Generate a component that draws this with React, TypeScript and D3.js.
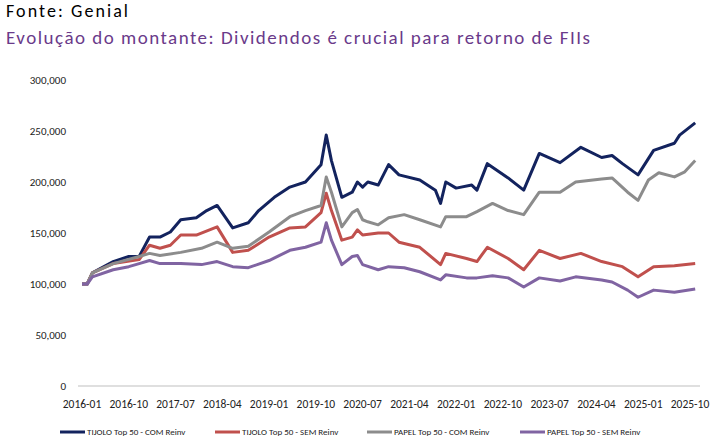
import React from "react";
import * as d3 from "d3";

const tijoloComM = [0,1,2,6,9,11,13,15,17,19,22,24,26,29,32,34,37,40,43,46,47,48,50,52,53,54,55,57,59,61,65,68,69,70,72,75,76,78,82,85,88,92,96,100,102,104,107,110,114,115,118];
const tijoloComV = [100,100,111,122,127,127,146,146,151,163,165,172,177,155,160,172,185,195,200,217,246,221,185,190,200,195,200,197,217,207,202,192,179,200,194,197,192,218,204,192,228,219,234,224,226,218,207,231,238,246,258];
const tijoloSemM = [0,1,2,6,11,13,15,17,19,22,26,29,32,36,40,43,46,47,48,50,52,53,54,57,59,61,65,69,70,74,76,78,82,85,88,92,96,100,104,107,110,114,118];
const tijoloSemV = [100,100,111,120,124,138,135,138,148,148,156,131,133,146,155,156,170,189,172,143,146,153,148,150,150,141,136,119,130,125,122,136,125,114,133,125,130,122,117,107,117,118,120];
const papelComM = [0,1,2,6,11,13,15,19,23,26,29,32,36,40,43,46,47,48,50,52,53,54,55,57,59,62,65,69,70,74,76,79,82,85,88,92,95,100,102,105,107,109,111,114,116,118];
const papelComV = [100,100,111,120,127,130,128,131,135,141,135,137,151,166,172,177,205,190,156,170,173,163,161,158,165,168,163,156,166,166,171,179,172,168,190,190,200,203,204,190,182,202,209,205,210,221];
const papelSemM = [0,1,2,6,9,11,13,15,19,23,26,29,32,36,40,43,46,47,48,50,52,53,54,57,59,62,65,69,70,74,76,79,82,85,88,92,95,100,102,105,107,110,114,118];
const papelSemV = [100,100,107,114,117,120,123,120,120,119,122,117,116,123,133,136,141,160,143,119,127,128,119,114,117,116,112,104,109,106,106,108,106,97,106,103,107,104,102,94,87,94,92,95];

const xTickLabels = ["2016-01","2016-10","2017-07","2018-04","2019-01","2019-10","2020-07","2021-04","2022-01","2022-10","2023-07","2024-04","2025-01","2025-10"];
const yTicks = [0,50000,100000,150000,200000,250000,300000];

const series = [
  { name: "TIJOLO Top 50  - COM Reinv", m: tijoloComM, v: tijoloComV, color: "#13235e" },
  { name: "TIJOLO Top 50  - SEM Reinv", m: tijoloSemM, v: tijoloSemV, color: "#c0504d" },
  { name: "PAPEL Top 50  - COM Reinv", m: papelComM, v: papelComV, color: "#8c8c8c" },
  { name: "PAPEL Top 50  - SEM Reinv", m: papelSemM, v: papelSemV, color: "#8064a2" },
];

export default function App() {
  const W = 719, H = 439;
  const x = d3.scaleLinear().domain([0, 117]).range([82, 690]);
  const y = d3.scaleLinear().domain([0, 300000]).range([386, 80]);
  const line = d3.line<[number, number]>().x(d => x(d[0])).y(d => y(d[1] * 1000));
  const font = "Calibri, Carlito, 'Open Sans', Arial, sans-serif";
  const legendX = [60, 215, 367, 520];
  return (
    <svg width={W} height={H} style={{ position: "absolute", left: 0, top: 0, background: "#fff" }} fontFamily={font}>
      <text x={6} y={17} fontSize={18} fill="#000" textLength={122}>Fonte: Genial</text>
      <text x={6} y={44} fontSize={19} fill="#6a3a8a" textLength={584}>Evolução do montante: Dividendos é crucial para retorno de FIIs</text>
      {yTicks.map(t => (
        <text key={t} x={66} y={y(t) + 4} fontSize={11} textAnchor="end" fill="#222">{d3.format(",")(t)}</text>
      ))}
      <line x1={78} x2={700} y1={386} y2={386} stroke="#bfbfbf" />
      {xTickLabels.map((l, i) => (
        <text key={l} x={x(i * 9)} y={408} fontSize={11.5} textAnchor="middle" fill="#222">{l}</text>
      ))}
      {series.map(s => (
        <path key={s.name} d={line(s.m.map((m, i) => [m, s.v[i]] as [number, number])) || ""} fill="none" stroke={s.color} strokeWidth={3} strokeLinejoin="round" />
      ))}
      {series.map((s, i) => (
        <g key={s.name} transform={`translate(${legendX[i]},432)`}>
          <line x1={0} x2={25} y1={0} y2={0} stroke={s.color} strokeWidth={3} />
          <text x={27} y={3} fontSize={9} fill="#222">{s.name}</text>
        </g>
      ))}
    </svg>
  );
}
